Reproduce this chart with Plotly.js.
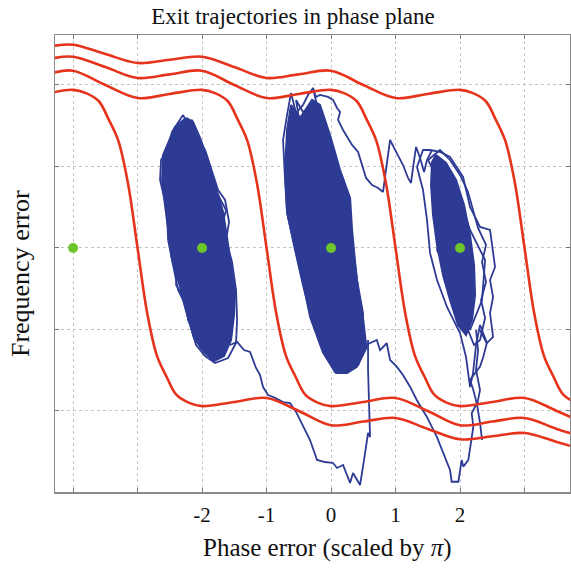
<!DOCTYPE html>
<html>
<head>
<meta charset="utf-8">
<script src="https://cdn.plot.ly/plotly-3.0.1.min.js"></script>
<style>html,body{margin:0;padding:0;background:#fff;}</style>
</head>
<body>
<div id="chart" style="width:571px;height:568px;"></div>
<script>
// Separatrices of the loop in the phase plane (phase in units of pi, frequency error)
const sepAx = [-4.3, -4, -3.5, -3, -2.5, -2, -1.5, -1, -0.5, 0, 0.5, 1, 1.5, 2, 2.2, 2.4, 2.55, 2.7, 2.85, 3, 3.15, 3.3, 3.45, 3.6, 3.8];
const sepAy = [2.48, 2.494, 2.38, 2.27, 2.31, 2.347, 2.22, 2.086, 2.13, 2.175, 2.0, 1.84, 1.89, 1.94, 1.90, 1.80, 1.58, 1.32, 0.80, 0, -0.80, -1.32, -1.58, -1.80, -1.90];

const sepBx = [-4.3, -4, -3.5, -3, -2.5, -2, -1.5, -1, -0.5, 0, 0.2, 0.4, 0.55, 0.7, 0.85, 1, 1.15, 1.3, 1.45, 1.6, 1.8, 2, 2.5, 3, 3.5, 4];
const sepBy = [2.33, 2.347, 2.22, 2.086, 2.13, 2.175, 2.0, 1.84, 1.89, 1.94, 1.90, 1.80, 1.58, 1.32, 0.80, 0, -0.80, -1.32, -1.58, -1.80, -1.90, -1.94, -1.89, -1.84, -2.0, -2.175];

const sepCx = [-4.3, -4, -3.5, -3, -2.5, -2, -1.8, -1.6, -1.45, -1.3, -1.15, -1, -0.85, -0.7, -0.55, -0.4, -0.2, 0, 0.5, 1, 1.5, 2, 2.5, 3, 3.5, 4];
const sepCy = [2.15, 2.175, 2.0, 1.84, 1.89, 1.94, 1.90, 1.80, 1.58, 1.32, 0.80, 0, -0.80, -1.32, -1.58, -1.80, -1.90, -1.94, -1.89, -1.84, -2.0, -2.175, -2.13, -2.086, -2.22, -2.347];

const sepDx = [-4.3, -4, -3.8, -3.6, -3.45, -3.3, -3.15, -3, -2.85, -2.7, -2.55, -2.4, -2.2, -2, -1.5, -1, -0.5, 0, 0.5, 1, 1.5, 2, 2.5, 3, 3.5, 4];
const sepDy = [1.91, 1.94, 1.90, 1.80, 1.58, 1.32, 0.80, 0, -0.80, -1.32, -1.58, -1.80, -1.90, -1.94, -1.89, -1.84, -2.0, -2.175, -2.13, -2.086, -2.22, -2.347, -2.31, -2.27, -2.38, -2.494];

// Dense jitter around each stable point (outline of the filled core)
const coreLx = [-2.248, -2.140, -2.031, -1.907, -1.783, -1.674, -1.612, -1.550, -1.488, -1.504, -1.550, -1.659, -1.814, -1.969, -2.124, -2.233, -2.341, -2.465, -2.543, -2.620, -2.605, -2.419, -2.248];
const coreLy = [1.595, 1.546, 1.350, 1.080, 0.736, 0.442, 0.123, -0.209, -0.540, -0.822, -1.129, -1.325, -1.387, -1.276, -1.104, -0.810, -0.479, -0.147, 0.319, 0.810, 1.141, 1.485, 1.595];

const coreMx = [-0.620, -0.481, -0.295, -0.171, -0.016, 0.140, 0.295, 0.326, 0.372, 0.419, 0.496, 0.543, 0.419, 0.217, 0.062, -0.093, -0.295, -0.434, -0.574, -0.682, -0.713, -0.682, -0.620];
const coreMy = [1.755, 1.595, 1.816, 1.755, 1.387, 0.957, 0.613, 0.221, -0.172, -0.515, -0.859, -1.190, -1.436, -1.534, -1.521, -1.313, -0.883, -0.454, 0.037, 0.442, 0.957, 1.448, 1.755];

const coreRx = [1.628, 1.783, 1.938, 2.062, 2.155, 2.217, 2.233, 2.186, 2.093, 1.969, 1.845, 1.736, 1.643, 1.581, 1.550, 1.566, 1.628];
const coreRy = [1.141, 1.043, 0.834, 0.528, 0.160, -0.209, -0.577, -0.883, -1.067, -0.945, -0.638, -0.331, 0.037, 0.405, 0.773, 1.055, 1.141];

// Outer scribbles of each cluster
const loopLx = [-2.295, -2.217, -2.155, -2.062, -1.953, -1.876, -1.752, -1.643, -1.581, -1.628, -1.535, -1.473, -1.457, -1.473, -1.597, -1.798, -1.953, -2.093, -2.186, -2.295, -2.372, -2.465, -2.527, -2.543, -2.651, -2.636, -2.543, -2.465, -2.372, -2.295];
const loopLy = [1.632, 1.509, 1.571, 1.325, 1.202, 1.018, 0.712, 0.589, 0.319, 0.098, -0.172, -0.515, -0.883, -1.166, -1.350, -1.411, -1.325, -1.190, -0.945, -0.638, -0.515, -0.172, 0.098, 0.466, 0.834, 1.080, 1.202, 1.423, 1.546, 1.632];

const loopL2x = [-2.341, -2.403, -2.527, -2.574, -2.496, -2.558, -2.465, -2.496, -2.388, -2.403, -2.248, -2.217, -2.109, -2.031, -1.876, -1.721, -1.628, -1.535, -1.597, -1.519, -1.581, -1.643, -1.690, -1.628, -1.736, -1.845, -1.938, -2.031, -2.124, -2.217, -2.341];
const loopL2y = [1.509, 1.325, 1.227, 0.957, 0.712, 0.528, 0.282, 0.037, -0.270, -0.454, -0.638, -0.883, -1.067, -1.215, -1.337, -1.313, -1.129, -0.945, -0.699, -0.454, -0.209, 0.037, 0.282, 0.466, 0.626, 0.834, 1.080, 1.227, 1.423, 1.472, 1.509];

const loopMx = [-0.620, -0.543, -0.434, -0.357, -0.279, -0.202, -0.093, -0.016, 0.062, 0.171, 0.295, 0.248, 0.341, 0.403, 0.496, 0.496, 0.558, 0.403, 0.248, 0.078, -0.124, -0.326, -0.434, -0.589, -0.682, -0.713, -0.744, -0.682, -0.620];
const loopMy = [1.902, 1.656, 1.755, 1.877, 1.963, 1.693, 1.509, 1.202, 1.018, 0.834, 0.589, 0.344, 0.012, -0.393, -0.798, -1.043, -1.215, -1.460, -1.534, -1.534, -1.288, -0.847, -0.429, 0.098, 0.429, 0.834, 1.325, 1.632, 1.902];

const loopM2x = [-0.543, -0.481, -0.605, -0.636, -0.543, -0.636, -0.512, -0.481, -0.357, -0.295, -0.202, -0.078, 0.047, 0.217, 0.372, 0.450, 0.419, 0.341, 0.357, 0.295, 0.264, 0.295, 0.202, 0.109, 0.016, -0.078, -0.140, -0.233, -0.326, -0.434, -0.543];
const loopM2y = [1.816, 1.509, 1.325, 1.018, 0.712, 0.466, 0.160, -0.147, -0.515, -0.761, -1.006, -1.252, -1.436, -1.497, -1.374, -1.129, -0.859, -0.638, -0.393, -0.147, 0.098, 0.344, 0.589, 0.773, 0.982, 1.264, 1.448, 1.632, 1.718, 1.669, 1.816];

const loopRx = [1.535, 1.690, 1.845, 2.047, 2.155, 2.310, 2.465, 2.512, 2.543, 2.465, 2.512, 2.465, 2.512, 2.419, 2.310, 2.248, 2.202, 2.155, 2.093, 2.0, 1.798, 1.643, 1.535, 1.488, 1.426, 1.333, 1.426, 1.535];
const loopRy = [1.202, 1.178, 1.117, 0.871, 0.503, 0.258, 0.221, -0.061, -0.233, -0.393, -0.601, -0.798, -1.092, -1.166, -0.945, -1.190, -1.534, -1.706, -1.337, -1.043, -0.724, -0.393, -0.061, 0.344, 0.712, 0.994, 1.202, 1.202];

const loopR2x = [1.504, 1.659, 1.566, 1.690, 1.643, 1.798, 1.876, 2.031, 2.124, 2.217, 2.310, 2.388, 2.326, 2.403, 2.341, 2.403, 2.279, 2.202, 2.124, 2.0, 1.845, 1.690, 1.504];
const loopR2y = [1.080, 0.834, 0.589, 0.282, -0.025, -0.270, -0.515, -0.761, -1.006, -1.190, -1.129, -0.859, -0.638, -0.417, -0.172, 0.037, 0.245, 0.466, 0.687, 0.896, 1.080, 1.202, 1.080];

const innerRx = [1.628, 1.922, 2.155, 2.388, 2.341, 2.155, 1.922, 1.767, 1.659, 1.566, 1.628];
const innerRy = [1.080, 0.773, 0.221, -0.147, -0.638, -1.006, -0.638, -0.270, 0.221, 0.712, 1.080];

// Slips between neighbouring stable points
const slipAx = [-0.279, -0.233, -0.171, -0.047, 0.031, 0.093, 0.140, 0.109, 0.186, 0.248, 0.326, 0.419, 0.481, 0.543, 0.636, 0.729, 0.806, 0.837, 0.868, 0.915, 0.977, 1.039, 1.116, 1.194, 1.240, 1.271, 1.318, 1.380, 1.442, 1.488, 1.566];
const slipAy = [1.963, 1.853, 1.877, 1.853, 1.816, 1.718, 1.669, 1.571, 1.448, 1.362, 1.264, 1.178, 1.018, 0.859, 0.773, 0.736, 0.687, 0.859, 1.018, 1.325, 1.227, 1.141, 1.018, 0.859, 0.798, 0.982, 1.239, 1.104, 0.933, 1.080, 1.202];

const slipBx = [-1.566, -1.457, -1.349, -1.256, -1.163, -1.101, -1.054, -0.977, -0.868, -0.744, -0.636, -0.543, -0.481, -0.326, -0.217, -0.093, 0.031, 0.093, 0.186, 0.295, 0.341, 0.450, 0.512, 0.574, 0.605, 0.589, 0.574, 0.574];
const slipBy = [-1.190, -1.153, -1.252, -1.276, -1.472, -1.558, -1.706, -1.804, -1.840, -1.890, -1.902, -2.012, -2.110, -2.356, -2.601, -2.626, -2.638, -2.699, -2.663, -2.883, -2.761, -2.908, -2.601, -2.270, -2.319, -1.865, -1.497, -1.129];

const slipCx = [0.543, 0.709, 0.760, 0.864, 0.915, 1.019, 1.116, 1.225, 1.329, 1.484, 1.639, 1.741, 1.845, 1.871, 1.974, 2.026, 2.051, 2.129, 2.155, 2.206, 2.181, 2.259, 2.206, 2.155, 2.310, 2.361, 2.414, 2.310];
const slipCy = [-1.190, -1.129, -1.252, -1.169, -1.374, -1.456, -1.558, -1.702, -1.865, -2.070, -2.315, -2.519, -2.724, -2.868, -2.868, -2.601, -2.683, -2.601, -2.479, -2.193, -2.028, -1.906, -1.742, -1.620, -1.456, -1.334, -1.169, -1.006];

const slipDx = [2.248, 2.279, 2.248, 2.310, 2.264, 2.310, 2.341];
const slipDy = [-1.006, -1.252, -1.497, -1.742, -1.926, -2.147, -2.356];

// Stable equilibria
const eqX = [-4, -2, 0, 2];
const eqY = [0, 0, 0, 0];

// Axis ticks
const xTickVals = [-4, -3, -2, -1, 0, 1, 2, 3];
const xTickText = ['', '', '-2', '-1', '0', '1', '2', ''];
const yTickVals = [-2, -1, 0, 1, 2];

const RED = '#e5331c';
const BLUE = '#2d3b94';
const GREEN = '#6cc62a';

const traces = [];
const blueLine = (x, y, w) => ({x, y, type: 'scatter', mode: 'lines', line: {color: BLUE, width: w || 1.8}, hoverinfo: 'skip'});
const core = (x, y) => ({x, y, type: 'scatter', mode: 'lines', fill: 'toself', fillcolor: BLUE, line: {color: BLUE, width: 2}, hoverinfo: 'skip'});

traces.push(core(coreLx, coreLy), core(coreMx, coreMy), core(coreRx, coreRy));
traces.push(blueLine(loopLx, loopLy), blueLine(loopL2x, loopL2y), blueLine(loopMx, loopMy), blueLine(loopM2x, loopM2y),
            blueLine(loopRx, loopRy), blueLine(loopR2x, loopR2y), blueLine(innerRx, innerRy));
traces.push(blueLine(slipAx, slipAy), blueLine(slipBx, slipBy), blueLine(slipCx, slipCy), blueLine(slipDx, slipDy));

[[sepAx, sepAy], [sepBx, sepBy], [sepCx, sepCy], [sepDx, sepDy]].forEach(([x, y]) => {
  traces.push({x, y, type: 'scatter', mode: 'lines', line: {color: RED, width: 2.6, shape: 'spline', smoothing: 1}, hoverinfo: 'skip'});
});

traces.push({x: eqX, y: eqY, type: 'scatter', mode: 'markers', marker: {color: GREEN, size: 10}, hoverinfo: 'skip'});

const serif = 'Liberation Serif, Times New Roman, serif';

const layout = {
  width: 571, height: 568,
  margin: {l: 55, r: 1, t: 35, b: 76},
  paper_bgcolor: '#ffffff', plot_bgcolor: '#ffffff',
  showlegend: false,
  font: {family: serif, color: '#111'},
  title: {text: 'Exit trajectories in phase plane', font: {family: serif, size: 23, color: '#111'}, x: 0.462, xref: 'paper', xanchor: 'center', y: 0.972, yanchor: 'middle'},
  xaxis: {
    range: [-4.28, 3.705], tickvals: xTickVals, ticktext: xTickText,
    ticks: 'inside', ticklen: 4, tickcolor: '#777', tickwidth: 1,
    showline: true, linecolor: '#8a8a8a', linewidth: 1.5, mirror: 'ticks',
    showgrid: true, gridcolor: '#c4c4c4', griddash: 'dot', gridwidth: 1,
    zeroline: false, tickfont: {family: serif, size: 21, color: '#111'}, ticklabelstandoff: 3
  },
  yaxis: {
    range: [-2.994, 2.613], tickvals: yTickVals, showticklabels: false,
    ticks: 'inside', ticklen: 4, tickcolor: '#777', tickwidth: 1,
    showline: true, linecolor: '#8a8a8a', linewidth: 1.5, mirror: 'ticks',
    showgrid: true, gridcolor: '#c4c4c4', griddash: 'dot', gridwidth: 1,
    zeroline: false
  },
  annotations: [
    {text: 'Phase error (scaled by <i>π</i>)', xref: 'paper', yref: 'paper', x: 0.530, y: -0.1225,
     xanchor: 'center', yanchor: 'middle', showarrow: false, font: {family: serif, size: 25, color: '#111'}},
    {text: 'Frequency error', xref: 'paper', yref: 'paper', x: -0.068, y: 0.479, textangle: -90,
     xanchor: 'center', yanchor: 'middle', showarrow: false, font: {family: serif, size: 26, color: '#111'}}
  ]
};

Plotly.newPlot('chart', traces, layout, {staticPlot: true, displayModeBar: false});
</script>
</body>
</html>
